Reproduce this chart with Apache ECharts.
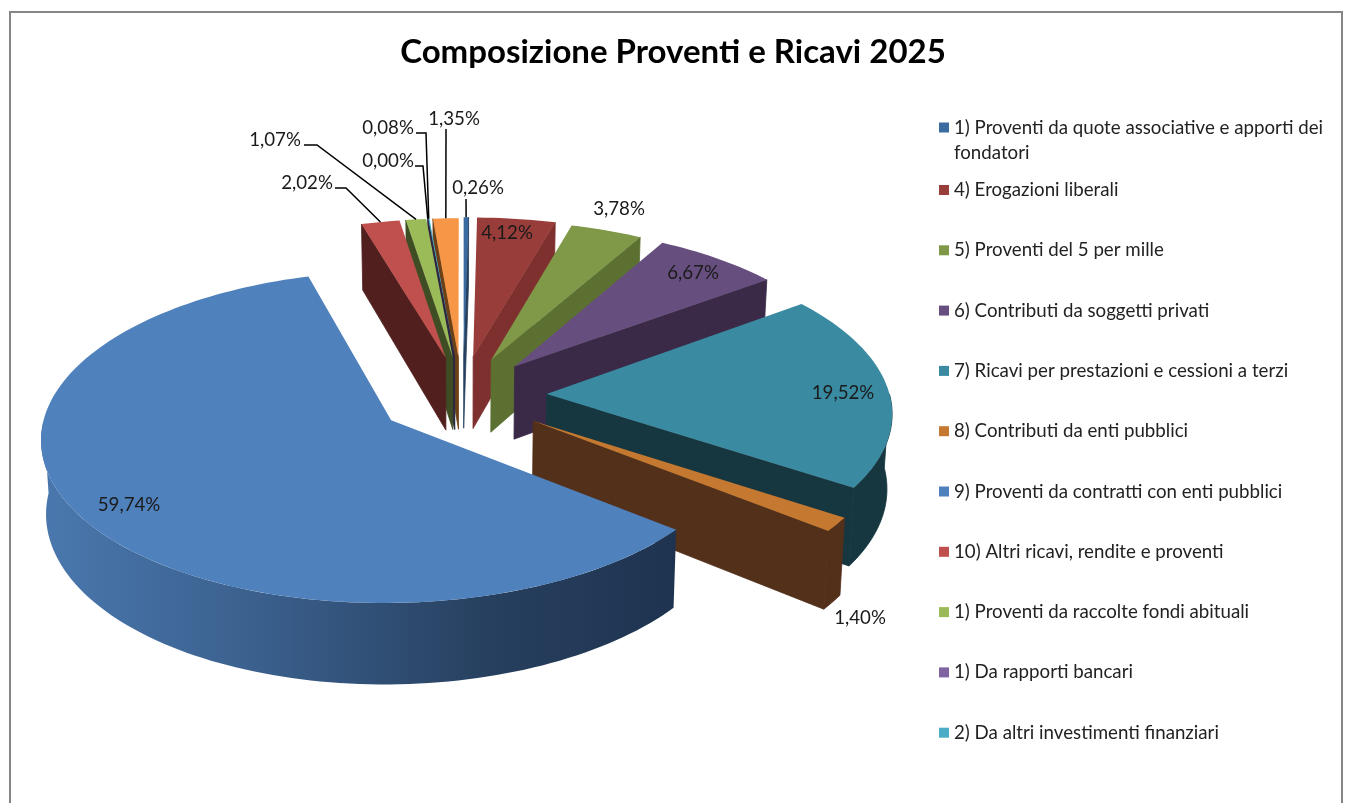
<!DOCTYPE html>
<html>
<head>
<meta charset="utf-8">
<style>html,body{margin:0;padding:0;background:#fff}#c{width:1346px;height:803px}</style>
<script src="https://cdn.jsdelivr.net/npm/echarts@6/dist/echarts.min.js"></script>
</head>
<body>
<div id="c"></div>
<script>
// ---- data, clockwise from the top ----
const titleText = 'Composizione Proventi e Ricavi 2025';
const categories = [
  '1) Proventi da quote associative e apporti dei fondatori',
  '4) Erogazioni liberali',
  '5) Proventi del 5 per mille',
  '6) Contributi da soggetti privati',
  '7) Ricavi per prestazioni e cessioni a terzi',
  '8) Contributi da enti pubblici',
  '9) Proventi da contratti con enti pubblici',
  '10) Altri ricavi, rendite e proventi',
  '1) Proventi da raccolte fondi abituali',
  '1) Da rapporti bancari',
  '2) Da altri investimenti finanziari',
  '3) Altri proventi'
];
const percentages = [0.26, 4.12, 3.78, 6.67, 19.52, 1.40, 59.74, 2.02, 1.07, 0.00, 0.08, 1.35];

// ---- styling ----
const topColors  = ['#3A6A9F','#993D3B','#7F9948','#664F7F','#3A8AA2','#C47830','#4F81BD','#C0504D','#9BBB59','#8064A2','#4BACC6','#F79646'];
const wallColors = ['#24405F','#7D302E','#5C7032','#3A2A48','#173740','#53301A','#1E3350','#501F1E','#3F4D24','#2E2440','#1D4A55','#6E4015'];
const paintOrder = [0, 11, 10, 9, 8, 1, 7, 2, 3, 4, 5, 6];
const labelFont = '18.7px Lato, sans-serif';

// ---- projection of the tilted disc ----
const CX = 460, CY = 395, RX = 343, RY = 160, PERSP = 0.1, DEPTH = 74, TAPER = 0.988;
const explosion = [0.25,0.25,0.25,0.25,0.25,0.25,0.235,0.25,0.25,0.25,0.25,0.25];
// small per-slice screen correction [dx, dy, depth change]
const nudge = [[3,0,0],[1,0,0],[-1,1,0],[-1,1,0],[1,0,0],[3,2,-2],[-1,4,-2],[4,1,0],[3,1,0],[2,1,0],[2,1,0],[2,1,0]];
const rad = d => d * Math.PI / 180;
function slicePoint(i, mid, theta, r, bottom) {
  const e = explosion[i];
  const u = e * Math.sin(rad(mid)) + r * Math.sin(rad(theta));
  const v = e * Math.cos(rad(mid)) + r * Math.cos(rad(theta));
  const s = 1 / (1 + PERSP * v);
  let x = CX + RX * u * s, y = CY - RY * v * s;
  if (bottom) { x = CX + (x - CX) * TAPER; y += DEPTH * s + nudge[i][2]; }
  return [x + nudge[i][0], y + nudge[i][1]];
}
const total = percentages.reduce((a, b) => a + b, 0);
const cumulative = [];
percentages.reduce((acc, p, i) => (cumulative[i] = acc, acc + p), 0);

function arc(i, mid, from, to, bottom) {
  const pts = [], n = Math.max(2, Math.ceil((to - from) / 1.5));
  for (let k = 0; k <= n; k++) pts.push(slicePoint(i, mid, from + (to - from) * k / n, 1, bottom));
  return pts;
}
function poly(points, fill, seal) {
  return { type: 'polygon', silent: true, shape: { points },
    style: seal ? { fill, stroke: seal, lineWidth: 0.8 } : { fill, stroke: null } };
}
const blueWall = new echarts.graphic.LinearGradient(0, 0, 1, 0, [
  { offset: 0, color: '#4A78AE' }, { offset: 0.35, color: '#3A5F8C' },
  { offset: 0.7, color: '#27405F' }, { offset: 1, color: '#1E3350' }
]);

function renderSlice(idx) {
  return function (params, api) {
    const value = api.value(0), before = api.value(1);
    const a = before / total * 360, b = (before + value) / total * 360, mid = (a + b) / 2;
    const kids = [];
    const apexT = slicePoint(idx, mid, 0, 0, false), apexB = slicePoint(idx, mid, 0, 0, true);
    const wall = wallColors[idx];
    // side walls facing the viewer
    if (Math.sin(rad(a)) < 0)
      kids.push(poly([apexT, slicePoint(idx, mid, a, 1, false), slicePoint(idx, mid, a, 1, true), apexB], wall, wall));
    if (Math.sin(rad(b)) > 0)
      kids.push(poly([apexT, slicePoint(idx, mid, b, 1, false), slicePoint(idx, mid, b, 1, true), apexB], wall, wall));
    // outer rim, front half only
    const f = Math.max(a, 90), t = Math.min(b, 270);
    if (t > f) {
      const upper = arc(idx, mid, f, t, false), lower = arc(idx, mid, f, t, true).reverse();
      kids.push(poly(upper.concat(lower), idx === 6 ? blueWall : wall, idx === 6 ? null : wall));
    }
    // top face
    kids.push(poly([apexT].concat(arc(idx, mid, a, b, false)), topColors[idx]));
    return { type: 'group', children: kids };
  };
}

// Data-label placement (manual layout of the original), leader knee/end points
const labelPos = [[478,188],[507,233],[619,209],[693,273],[843,393],[860,618],[129,505],[307,183],[275,140],[388,161],[388,128],[454,119]];
const leaders  = [
  [[466,199]], null, null, null, null, null, null,
  [[346,188],[335,188]], [[317,145],[304,145]], [[423,166],[415,166]], [[426,133],[416,133]], [[446,129]]
];
function renderLabel(params, api) {
  const i = params.dataIndex, value = api.value(0), before = api.value(1);
  const mid = (before + value / 2) / total * 360;
  const [lx, ly] = labelPos[i];
  const kids = [{
    type: 'text', silent: true,
    style: { text: value.toFixed(2).replace('.', ',') + '%', x: lx, y: ly, font: labelFont, fill: '#1a1a1a', align: 'center', verticalAlign: 'middle' }
  }];
  if (leaders[i]) {
    kids.push({
      type: 'polyline', silent: true,
      shape: { points: [slicePoint(i, mid, mid, 1, false)].concat(leaders[i]) },
      style: { stroke: '#000', lineWidth: 1.5, fill: null }
    });
  }
  return { type: 'group', children: kids };
}

const series = categories.map((name, i) => ({
  type: 'custom', name, coordinateSystem: 'none', silent: true, animation: false,
  z: 2 + paintOrder.indexOf(i),
  itemStyle: { color: topColors[i] },
  data: [[percentages[i], cumulative[i]]],
  renderItem: renderSlice(i)
}));
series.push({
  type: 'custom', name: 'etichette', coordinateSystem: 'none', silent: true, animation: false, z: 40,
  data: percentages.map((p, i) => [p, cumulative[i]]),
  renderItem: renderLabel
});

const legendText = { fontFamily: 'Lato, sans-serif', fontSize: 18.7, color: '#222', lineHeight: 25 };
const chart = echarts.init(document.getElementById('c'), null, { renderer: 'canvas' });
chart.setOption({
  backgroundColor: '#fff',
  animation: false,
  title: {
    text: titleText, left: 'center', top: 31,
    textStyle: { fontFamily: 'Lato, sans-serif', fontWeight: 'bold', fontSize: 33, color: '#000' }
  },
  legend: [
    {
      orient: 'vertical', left: 934, top: 85, itemWidth: 10, itemHeight: 10, icon: 'rect',
      selectedMode: false, data: [categories[0]],
      textStyle: legendText,
      formatter: n => '\n' + n.replace(' fondatori', '\nfondatori')
    },
    {
      orient: 'vertical', left: 934, top: 172.5, itemWidth: 10, itemHeight: 10, icon: 'rect',
      selectedMode: false, itemGap: 35.3, data: categories.slice(1, 11),
      textStyle: legendText
    }
  ],
  graphic: [{
    type: 'rect', z: 0, silent: true,
    shape: { x: 10, y: 12, width: 1332, height: 830 },
    style: { fill: 'none', stroke: '#868686', lineWidth: 2 }
  }],
  series
});
</script>
</body>
</html>
